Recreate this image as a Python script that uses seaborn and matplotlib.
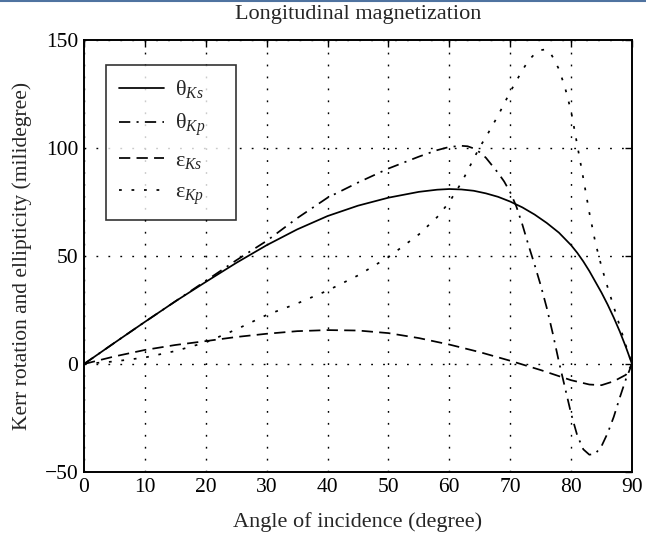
import numpy as np
import pandas as pd
import matplotlib
matplotlib.use("Agg")
import matplotlib.pyplot as plt
import seaborn as sns
from matplotlib.lines import Line2D

# Kerr rotation (theta) and ellipticity (epsilon) vs. angle of incidence, in millidegrees
theta_ks_angle = [0, 5, 10, 15, 20, 25, 30, 35, 40, 45, 50, 55, 58, 60, 62, 64, 66, 68, 70, 72, 74, 76, 78,
                  80, 81, 82, 83, 84, 85, 86, 87, 88, 89, 90]
theta_ks = [0, 9.8, 19.5, 29, 38, 46.8, 55, 62.3, 68.5, 73.3, 77, 79.7, 80.7, 81, 80.8, 80.2, 79, 77.4, 75.2,
            72.5, 69.2, 65.3, 60.8, 55, 51.5, 47.5, 43, 38, 33, 27.5, 21.5, 15, 7.8, 0]

theta_kp_angle = [0, 5, 10, 15, 20, 25, 30, 35, 40, 45, 50, 55, 58, 60, 62, 63, 64, 65, 66, 67, 68, 69, 70,
                  71, 72, 73, 74, 75, 76, 77, 78, 79, 80, 81, 82, 83, 84, 85, 86, 87, 88, 89, 90]
theta_kp = [0, 9.8, 19.5, 29, 38.5, 48, 57, 67.5, 77, 84, 90.5, 96, 99, 100.5, 101, 100.8, 99.8, 98, 95.5,
            92, 88.5, 84.5, 79.5, 73, 64.5, 55, 46, 36.5, 26, 14, 1, -11, -23, -33, -39.5, -42, -41.5, -38,
            -32, -24.5, -15.5, -7, 0]

eps_ks_angle = [0, 5, 10, 15, 20, 25, 30, 35, 40, 45, 50, 55, 60, 65, 70, 75, 80, 83, 85, 87, 89, 90]
eps_ks = [0, 3.5, 6.5, 8.8, 10.6, 12.5, 14, 15.2, 15.7, 15.5, 14.3, 12, 9, 5.5, 1.5, -2.8, -7.5, -9.5,
          -9.8, -8, -5, 0]

eps_kp_angle = [0, 5, 10, 15, 20, 25, 30, 35, 40, 45, 50, 55, 58, 60, 62, 63, 64, 65, 66, 67, 68, 69, 70,
                71, 72, 73, 74, 75, 75.7, 76.5, 77, 78, 79, 80, 81, 82, 83, 84, 85, 86, 87, 88, 89, 90]
eps_kp = [0, 1.2, 3, 6, 10, 16, 22.7, 28, 34, 41, 49.5, 60, 68, 75, 84, 89.5, 95, 100.5, 105, 110, 115,
          120.5, 126, 131, 136, 140.5, 143.5, 145.3, 145.6, 144.5, 142, 136.5, 128, 117, 101.5, 86, 70,
          56, 45, 35.5, 26.5, 17.5, 8.5, 0]

x_ticks = [0, 10, 20, 30, 40, 50, 60, 70, 80, 90]
y_ticks = [-50, 0, 50, 100, 150]

# label, angles, values, dash pattern (in line-width units; empty = solid)
series = [
    ("θ$_{Ks}$", theta_ks_angle, theta_ks, ()),
    ("θ$_{Kp}$", theta_kp_angle, theta_kp, (6.5, 3.6, 1.2, 3.6)),
    ("ε$_{Ks}$", eps_ks_angle, eps_ks, (6.5, 3.6)),
    ("ε$_{Kp}$", eps_kp_angle, eps_kp, (1.6, 5.6)),
]

sns.set_style("white")
plt.rcParams["font.family"] = ["Liberation Serif", "DejaVu Serif"]
plt.rcParams["mathtext.fontset"] = "custom"
plt.rcParams["mathtext.rm"] = "Liberation Serif"
plt.rcParams["mathtext.it"] = "Liberation Serif:italic"

fig = plt.figure(figsize=(6.46, 5.37), dpi=100)
ax = fig.add_axes([84 / 646, 1 - 472 / 537, 548 / 646, 432 / 537])

for label, xs, ys, dash in series:
    df = pd.DataFrame({"angle": xs, "value": ys})
    sns.lineplot(data=df, x="angle", y="value", ax=ax, color="black",
                 linewidth=1.25, label=label, sort=False)
    line = ax.get_lines()[-1]
    if dash:
        line.set_dashes(dash)
    line.set_dash_capstyle("butt")

ax.set_xlim(0, 90)
ax.set_ylim(-50, 150)
ax.set_xticks(x_ticks)
ax.set_yticks(y_ticks)
ax.set_yticklabels([str(v).replace("-", "\u2212") for v in y_ticks])
ax.grid(True, color="black", linestyle=(0, (1.3, 7.3)), linewidth=1.0)
ax.tick_params(direction="in", length=5, width=1, top=True, right=True,
               labelsize=15.5, colors="black", pad=4)
for s in ax.spines.values():
    s.set_color("black")
    s.set_linewidth(1.4)

ax.set_title("Longitudinal magnetization", fontsize=16, pad=15)
ax.set_xlabel("Angle of incidence (degree)", fontsize=16, labelpad=11)
ax.set_ylabel("Kerr rotation and ellipticity (milidegree)", fontsize=15.5, labelpad=9)

leg = ax.legend(loc="upper left", bbox_to_anchor=(0.04, 0.942), borderaxespad=0,
                fontsize=16, handlelength=2.0, handletextpad=0.5, labelspacing=0.52,
                frameon=True, fancybox=False, borderpad=0.6)
for t in leg.get_texts():
    t.set_text(t.get_text() + "    ")
leg.get_frame().set_edgecolor("black")
leg.get_frame().set_linewidth(1.2)

# thin rule along the top edge of the page
fig.add_artist(Line2D([0, 1], [0.998, 0.998], transform=fig.transFigure,
                      color="#4f73a0", linewidth=1.5))

fig.savefig("out.png", dpi=100)
